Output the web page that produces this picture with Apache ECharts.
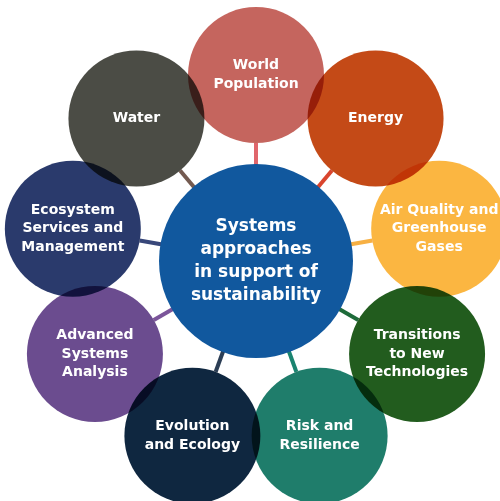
<!DOCTYPE html>
<html>
<head>
<meta charset="utf-8">
<script src="https://cdn.jsdelivr.net/npm/echarts@6/dist/echarts.min.js"></script>
<style>html,body{margin:0;padding:0;background:#fff}#c{width:500px;height:501px}</style>
</head>
<body>
<div id="c"></div>
<script>
const categories = ['World Population','Energy','Air Quality and Greenhouse Gases','Transitions to New Technologies','Risk and Resilience','Evolution and Ecology','Advanced Systems Analysis','Ecosystem Services and Management','Water'];
const labels = ['World\nPopulation','Energy','Air Quality and\nGreenhouse\nGases','Transitions\nto New\nTechnologies','Risk and\nResilience','Evolution\nand Ecology','Advanced\nSystems\nAnalysis','Ecosystem\nServices and\nManagement','Water'];
const circleColors = ['#C5655E','#C44A17','#FBB641','#225C1E','#1F7D6B','#0F2740','#6B4C8F','#2A3A6C','#4B4C45'];
const lineColors = ['#E0666C','#D9452E','#F7B043','#1E6B3A','#1A8470','#2C3E55','#7B559A','#38477A','#745A50'];
const centerLabel = 'Systems\napproaches\nin support of\nsustainability';
const centerColor = '#11589E';
const outerRadius = 1;

const chart = echarts.init(document.getElementById('c'), null, {renderer:'canvas'});
const font = {fontFamily:'DejaVu Sans', fontWeight:'bold', color:'#fff', opacity:1, textBorderWidth:0};
const series = [];
categories.forEach((c,i)=>{
  series.push({type:'line', coordinateSystem:'polar', z:1, symbol:'none', silent:true,
    lineStyle:{color:lineColors[i], width:4}, data:[[0,c],[outerRadius,c]]});
});
// white underlay so lines do not show through the multiplied circles
series.push({type:'scatter', coordinateSystem:'polar', z:2, symbolSize:136, silent:true,
  itemStyle:{color:'#fff', opacity:1},
  data:categories.map(c=>[outerRadius,c])});
series.push({type:'scatter', coordinateSystem:'polar', z:3, symbolSize:194, silent:true,
  itemStyle:{color:centerColor, opacity:1},
  label:{show:true, position:'inside', formatter:centerLabel, fontSize:17, lineHeight:23, ...font},
  data:[[0,categories[0]]]});
series.push({type:'scatter', coordinateSystem:'polar', z:4, symbolSize:136, silent:true, blendMode:'multiply',
  data:categories.map((c,i)=>({value:[outerRadius,c], itemStyle:{color:circleColors[i], opacity:1}}))});
series.push({type:'scatter', coordinateSystem:'polar', z:5, symbolSize:136, silent:true,
  itemStyle:{color:'rgba(0,0,0,0)', opacity:1},
  label:{show:true, position:'inside', fontSize:14, lineHeight:18.5, ...font, formatter:p=>labels[p.dataIndex]},
  data:categories.map(c=>[outerRadius,c])});

chart.setOption({
  animation:false,
  backgroundColor:'#fff',
  polar:{center:[256,261], radius:186},
  angleAxis:{type:'category', data:categories, startAngle:110, clockwise:true, show:false, boundaryGap:true},
  radiusAxis:{type:'value', min:0, max:1, show:false},
  series
});
</script>
</body>
</html>
